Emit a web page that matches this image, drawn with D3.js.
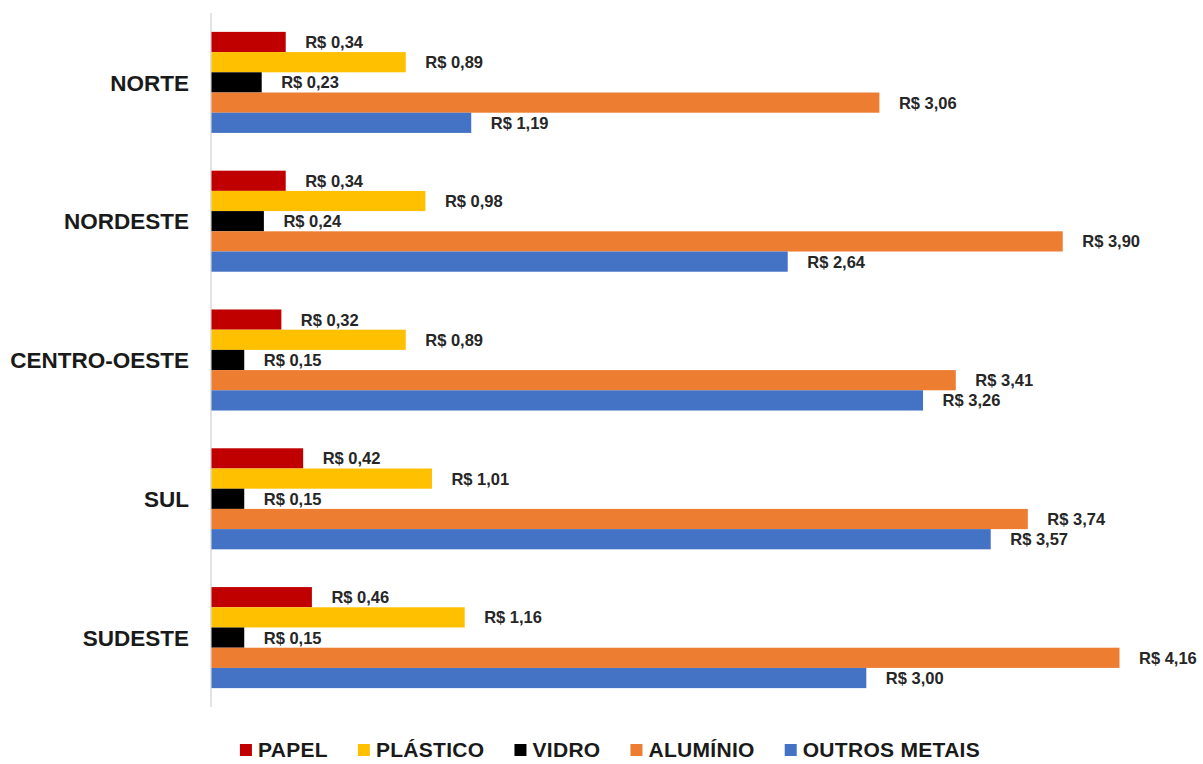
<!DOCTYPE html>
<html>
<head>
<meta charset="utf-8">
<script src="https://cdn.jsdelivr.net/npm/d3@7"></script>
<style>
  html, body { margin: 0; padding: 0; background: #fff; }
  #chart { width: 1203px; height: 764px; }
  svg { font-family: "Liberation Sans", Arial, sans-serif; }
  .cat { font-size: 22.5px; font-weight: bold; fill: #1a1a1a; }
  .val { font-size: 16.5px; font-weight: bold; fill: #262626; }
  .leg { font-size: 21px; font-weight: bold; fill: #1a1a1a; letter-spacing: 0.3px; }
</style>
</head>
<body>
<div id="chart"></div>
<script>
const regions = ['NORTE', 'NORDESTE', 'CENTRO-OESTE', 'SUL', 'SUDESTE'];
const series = ['PAPEL', 'PLÁSTICO', 'VIDRO', 'ALUMÍNIO', 'OUTROS METAIS'];
const colors = ['#c00000', '#ffc000', '#000000', '#ed7d31', '#4472c4'];

// preço por kg, uma linha por região, na ordem das séries
const papel    = [0.34, 0.34, 0.32, 0.42, 0.46];
const plastico = [0.89, 0.98, 0.89, 1.01, 1.16];
const vidro    = [0.23, 0.24, 0.15, 0.15, 0.15];
const aluminio = [3.06, 3.90, 3.41, 3.74, 4.16];
const outros   = [1.19, 2.64, 3.26, 3.57, 3.00];

const values = [papel, plastico, vidro, aluminio, outros];

const W = 1203, H = 764;
const svg = d3.select('#chart').append('svg')
  .attr('width', W)
  .attr('height', H);

const y = d3.scaleBand()
  .domain(regions)
  .range([13, 707])
  .paddingInner(0.272)
  .paddingOuter(0.136);

const ySub = d3.scaleBand()
  .domain(series)
  .range([0, y.bandwidth()]);

const x = d3.scaleLinear()
  .domain([0, 4.16])
  .range([211, 1119]);

const brl = d3.formatLocale({ decimal: ',', thousands: '.', grouping: [3], currency: ['R$ ', ''] });
const fmt = v => 'R$ ' + brl.format('.2f')(v);

const rows = [];
regions.forEach((r, i) => {
  series.forEach((s, j) => {
    rows.push({ region: r, series: s, value: values[j][i], color: colors[j] });
  });
});

// axis line
svg.append('line')
  .attr('x1', x(0)).attr('x2', x(0))
  .attr('y1', y.range()[0]).attr('y2', y.range()[1])
  .attr('stroke', '#d9d9d9')
  .attr('stroke-width', 1.5);

svg.append('g')
  .selectAll('rect')
  .data(rows)
  .join('rect')
  .attr('x', x(0) + 0.5)
  .attr('y', d => y(d.region) + ySub(d.series))
  .attr('width', d => x(d.value) - x(0))
  .attr('height', ySub.bandwidth())
  .attr('fill', d => d.color);

svg.append('g')
  .selectAll('text')
  .data(rows)
  .join('text')
  .attr('class', 'val')
  .attr('x', d => x(d.value) + 20)
  .attr('y', d => y(d.region) + ySub(d.series) + ySub.bandwidth() / 2)
  .attr('dy', '0.36em')
  .text(d => fmt(d.value));

svg.append('g')
  .selectAll('text')
  .data(regions)
  .join('text')
  .attr('class', 'cat')
  .attr('x', 189)
  .attr('y', d => y(d) + y.bandwidth() / 2)
  .attr('dy', '0.36em')
  .attr('text-anchor', 'end')
  .text(d => d);

// legend, centred under the plot
const legend = svg.append('g');
const items = legend.selectAll('g')
  .data(series)
  .join('g');

items.append('rect')
  .attr('y', -6)
  .attr('width', 12)
  .attr('height', 12)
  .attr('fill', (d, i) => colors[i]);

items.append('text')
  .attr('class', 'leg')
  .attr('x', 18)
  .attr('dy', '0.35em')
  .text(d => d);

let lx = 0;
items.each(function () {
  const g = d3.select(this);
  g.attr('transform', `translate(${lx},0)`);
  lx += 18 + g.select('text').node().getComputedTextLength() + 30;
});
const legendW = lx - 30;
legend.attr('transform', `translate(${610 - legendW / 2},750)`);
</script>
</body>
</html>
